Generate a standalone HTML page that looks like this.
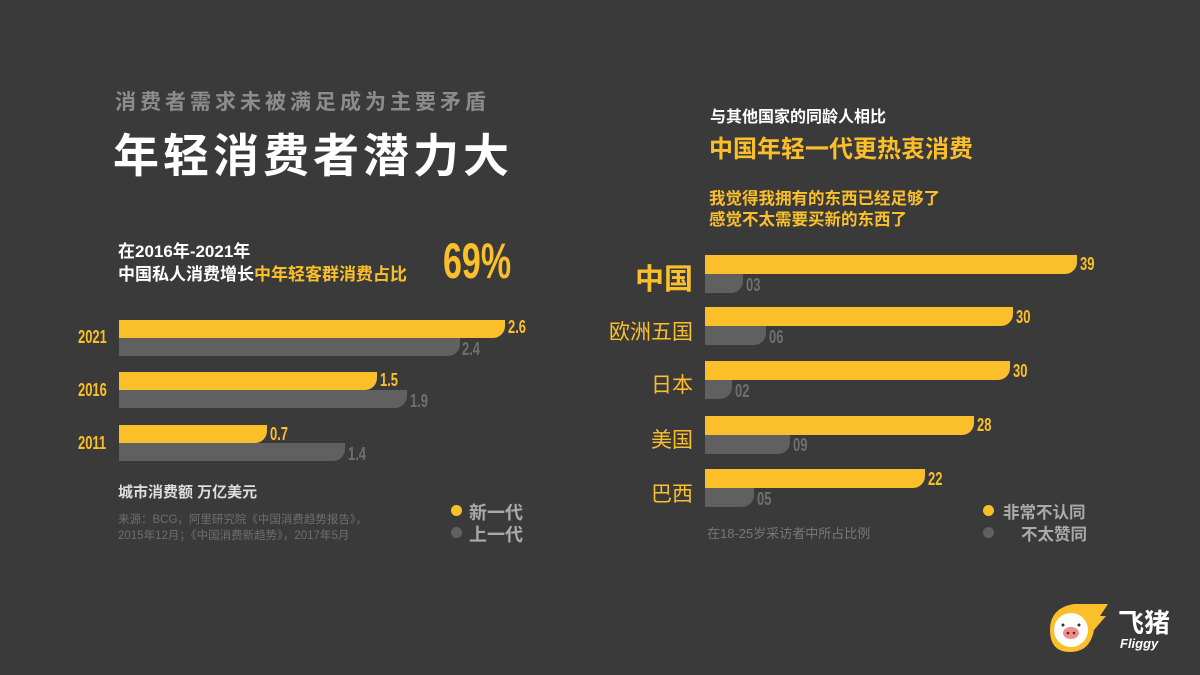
<!DOCTYPE html>
<html><head><meta charset="utf-8"><style>
body{margin:0;width:1200px;height:675px;background:#3a3a3a;overflow:hidden;position:relative;font-family:"Liberation Sans","Noto Sans CJK SC",sans-serif;}
.a{position:absolute;white-space:nowrap;}
.y{background:#fbbf2a;position:absolute;border-radius:0 0 12px 0;}
.g{background:#606060;position:absolute;border-radius:0 0 12px 0;}
.n{position:absolute;font-family:"Liberation Sans Narrow","Liberation Sans",sans-serif;font-weight:bold;font-size:18px;transform:scaleX(0.72);transform-origin:left;}
.ny{color:#fbbf2a}.ng{color:#6f6f6f}
.cl{position:absolute;color:#fbbf2a;font-size:21px;text-align:right;width:90px;}
</style></head><body>
<div class="a" style="left:115px;top:86px;font-size:21px;font-weight:bold;color:#8c8c8c;letter-spacing:4px">消费者需求未被满足成为主要矛盾</div>
<div class="a" style="left:113px;top:120px;font-size:46px;font-weight:bold;color:#fff;letter-spacing:4px">年轻消费者潜力大</div>
<div class="a" style="left:118px;top:237px;font-size:17px;font-weight:bold;color:#fff">在2016年-2021年</div>
<div class="a" style="left:118px;top:260px;font-size:17px;font-weight:bold;color:#fff">中国私人消费增长<span style="color:#fbbf2a">中年轻客群消费占比</span></div>
<div class="a" style="left:443px;top:232px;font-size:50px;font-weight:bold;color:#fbbf2a;transform:scaleX(0.68);transform-origin:left">69%</div>

<div class="n ny" style="left:78px;top:327px">2021</div>
<div class="n ny" style="left:78px;top:380px">2016</div>
<div class="n ny" style="left:78px;top:433px">2011</div>
<div class="y" style="left:119px;top:320px;width:386px;height:18px"></div>
<div class="g" style="left:119px;top:338px;width:341px;height:18px"></div>
<div class="y" style="left:119px;top:372px;width:258px;height:18px"></div>
<div class="g" style="left:119px;top:390px;width:288px;height:18px"></div>
<div class="y" style="left:119px;top:425px;width:148px;height:18px"></div>
<div class="g" style="left:119px;top:443px;width:226px;height:18px"></div>
<div class="n ny" style="left:508px;top:317px">2.6</div>
<div class="n ng" style="left:462px;top:339px">2.4</div>
<div class="n ny" style="left:380px;top:370px">1.5</div>
<div class="n ng" style="left:410px;top:391px">1.9</div>
<div class="n ny" style="left:270px;top:424px">0.7</div>
<div class="n ng" style="left:348px;top:444px">1.4</div>
<div class="a" style="left:118px;top:481px;font-size:15px;font-weight:bold;color:#ddd">城市消费额 万亿美元</div>
<div class="a" style="left:118px;top:512px;font-size:11.5px;color:#6e6e6e;line-height:16px">来源：BCG，阿里研究院《中国消费趋势报告》，<br>2015年12月；《中国消费新趋势》，2017年5月</div>
<div class="a" style="left:451px;top:505px;width:11px;height:11px;border-radius:50%;background:#fbbf2a"></div>
<div class="a" style="left:451px;top:527px;width:11px;height:11px;border-radius:50%;background:#606060"></div>
<div class="a" style="left:469px;top:499px;font-size:18px;font-weight:bold;color:#aaa">新一代</div>
<div class="a" style="left:469px;top:521px;font-size:18px;font-weight:bold;color:#aaa">上一代</div>

<div class="a" style="left:710px;top:103px;font-size:16px;font-weight:bold;color:#fff">与其他国家的同龄人相比</div>
<div class="a" style="left:709px;top:129px;font-size:24px;font-weight:bold;color:#fbbf2a">中国年轻一代更热衷消费</div>
<div class="a" style="left:709px;top:189px;font-size:16.5px;font-weight:bold;color:#fbbf2a;line-height:21px">我觉得我拥有的东西已经足够了<br>感觉不太需要买新的东西了</div>

<div class="cl" style="left:603px;top:256px;font-size:29px;font-weight:bold">中国</div>
<div class="cl" style="left:603px;top:316px">欧洲五国</div>
<div class="cl" style="left:603px;top:369px">日本</div>
<div class="cl" style="left:603px;top:424px">美国</div>
<div class="cl" style="left:603px;top:478px">巴西</div>
<div class="y" style="left:705px;top:255px;width:372px;height:19px"></div>
<div class="g" style="left:705px;top:274px;width:38px;height:19px"></div>
<div class="y" style="left:705px;top:307px;width:308px;height:19px"></div>
<div class="g" style="left:705px;top:326px;width:61px;height:19px"></div>
<div class="y" style="left:705px;top:361px;width:305px;height:19px"></div>
<div class="g" style="left:705px;top:380px;width:27px;height:19px"></div>
<div class="y" style="left:705px;top:416px;width:269px;height:19px"></div>
<div class="g" style="left:705px;top:435px;width:85px;height:19px"></div>
<div class="y" style="left:705px;top:469px;width:220px;height:19px"></div>
<div class="g" style="left:705px;top:488px;width:49px;height:19px"></div>
<div class="n ny" style="left:1080px;top:254px">39</div>
<div class="n ng" style="left:746px;top:275px">03</div>
<div class="n ny" style="left:1016px;top:307px">30</div>
<div class="n ng" style="left:769px;top:327px">06</div>
<div class="n ny" style="left:1013px;top:361px">30</div>
<div class="n ng" style="left:735px;top:381px">02</div>
<div class="n ny" style="left:977px;top:415px">28</div>
<div class="n ng" style="left:793px;top:435px">09</div>
<div class="n ny" style="left:928px;top:469px">22</div>
<div class="n ng" style="left:757px;top:489px">05</div>
<div class="a" style="left:707px;top:523px;font-size:13px;color:#777">在18-25岁采访者中所占比例</div>
<div class="a" style="left:983px;top:505px;width:11px;height:11px;border-radius:50%;background:#fbbf2a"></div>
<div class="a" style="left:983px;top:527px;width:11px;height:11px;border-radius:50%;background:#606060"></div>
<div class="a" style="left:1003px;top:499px;font-size:16.5px;font-weight:bold;color:#aaa">非常不认同</div>
<div class="a" style="left:1021px;top:521px;font-size:16.5px;font-weight:bold;color:#aaa">不太赞同</div>

<svg class="a" style="left:1044px;top:600px" width="66" height="56" viewBox="0 0 66 56">
<path d="M30 4 L64 4 L56 16 L62 16 L50 30 Q46 52 26 52 Q6 52 6 30 Q6 8 30 4Z" fill="#fbbf2a"/>
<circle cx="27" cy="30" r="17" fill="#fff"/>
<ellipse cx="27" cy="33" rx="8" ry="6" fill="#f48a8a"/>
<circle cx="24" cy="33" r="1.3" fill="#333"/><circle cx="30" cy="33" r="1.3" fill="#333"/>
<circle cx="19" cy="25" r="1.5" fill="#333"/><circle cx="35" cy="25" r="1.5" fill="#333"/>
</svg>
<div class="a" style="left:1118px;top:603px;font-size:26px;font-weight:bold;color:#fff">飞猪</div>
<div class="a" style="left:1120px;top:636px;font-size:13px;font-weight:bold;font-style:italic;color:#fff">Fliggy</div>
</body></html>
